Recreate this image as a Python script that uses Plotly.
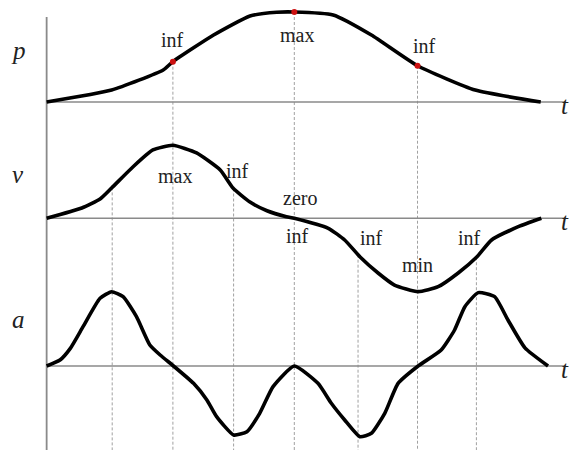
import numpy as np
import plotly.graph_objects as go

# ---------------- data ----------------
# position p(t)
p_t = [-0.08, 0.99, 1.84, 2.0, 2.67, 3.27, 3.71, 4.0, 4.64, 5.27, 6.03, 6.98, 8.06]
p_val = [0.0, 0.133, 0.356, 0.448, 0.744, 0.956, 0.997, 1.0, 0.967, 0.744, 0.403, 0.133, 0.0]

# velocity v(t)
v_t = [-0.08, 0.50, 0.80, 0.99, 1.34, 1.67, 2.0, 2.39, 2.78, 2.99, 3.27, 3.55, 3.87, 4.0,
       4.56, 4.83, 5.08, 5.38, 5.65, 6.04, 6.37, 6.70, 7.01, 7.25, 7.69, 8.07]
v_val = [0.0, 0.141, 0.264, 0.415, 0.703, 0.936, 1.0, 0.895, 0.662, 0.415, 0.223, 0.104, 0.022, 0.0,
         -0.137, -0.297, -0.526, -0.749, -0.914, -1.005, -0.937, -0.749, -0.526, -0.297, -0.115, 0.0]

# acceleration a(t)
a_t = [-0.08, 0.14, 0.31, 0.52, 0.80, 0.99, 1.18, 1.40, 1.62, 1.79, 2.01, 2.34, 2.56, 2.72, 3.0,
       3.22, 3.43, 3.65, 4.0, 4.39, 4.61, 4.83, 5.08, 5.27, 5.49, 5.71, 6.04, 6.42, 6.64, 6.81,
       7.03, 7.30, 7.52, 7.80, 8.18]
a_val = [0.0, 0.083, 0.245, 0.546, 0.940, 1.032, 0.962, 0.685, 0.292, 0.153, 0.0, -0.241, -0.472,
         -0.704, -0.958, -0.912, -0.657, -0.287, 0.0, -0.241, -0.518, -0.75, -0.982, -0.935,
         -0.657, -0.241, 0.0, 0.222, 0.5, 0.824, 1.019, 0.963, 0.639, 0.252, 0.0]

# marked instants
p_marks_t = [2.0, 4.0, 6.03]          # inf, max, inf of p
v_marks_t = [1.0, 3.0, 5.05, 7.0]     # instants marked from the v curve

axis_names = ["p", "v", "a"]
time_name = "t"

# labels: (text, t, y) y in layout units (-px/10)
labels = [
    ("inf", 2.0, -4.0), ("max", 4.05, -3.5), ("inf", 6.14, -4.6),
    ("max", 2.04, -17.6), ("inf", 3.07, -17.1), ("zero", 4.09, -19.8), ("inf", 4.05, -23.6),
    ("inf", 5.27, -23.8), ("min", 6.03, -26.5), ("inf", 6.88, -23.8),
]

# ---------------- layout constants ----------------
# the page body has an 8px margin, so the figure covers window pixels 8..578 x 8..450
OFF = 8
T0, T1 = -0.08, 8.46
X_RANGE = [(OFF - 51.5) / 60.7, (578 - 51.5) / 60.7]
Y_RANGE = [-45.0, -OFF / 10.0]
panels = {  # base, scale
    "p": (-10.2, 9.0),
    "v": (-21.83, 7.3),
    "a": (-36.6, 7.2),
}
GRAY = "#8a8a8a"
DOT = "#a0a0a0"
SERIF = "Liberation Serif, Times New Roman, serif"


def y_of(name, vals):
    b, s = panels[name]
    return [b + s * v for v in vals]


fig = go.Figure()

# dotted verticals from p marks
for tm in p_marks_t:
    y0 = y_of("p", [np.interp(tm, p_t, p_val)])[0]
    fig.add_trace(go.Scatter(x=[tm, tm], y=[y0, Y_RANGE[0]], mode="lines",
                             line=dict(color=DOT, width=1, dash="3px,2px"), hoverinfo="skip"))
# dotted verticals from v marks
for tm in v_marks_t:
    y0 = y_of("v", [np.interp(tm, v_t, v_val)])[0]
    fig.add_trace(go.Scatter(x=[tm, tm], y=[y0, Y_RANGE[0]], mode="lines",
                             line=dict(color=DOT, width=1, dash="3px,2px"), hoverinfo="skip"))

# vertical axis
fig.add_trace(go.Scatter(x=[T0, T0], y=[-1.7, Y_RANGE[0]], mode="lines",
                         line=dict(color=GRAY, width=1.8), hoverinfo="skip"))
# time axes
for name in axis_names:
    b, _ = panels[name]
    fig.add_trace(go.Scatter(x=[T0, T1], y=[b, b], mode="lines",
                             line=dict(color=GRAY, width=1.6), hoverinfo="skip"))

# curves
for name, tt, vv in (("p", p_t, p_val), ("v", v_t, v_val), ("a", a_t, a_val)):
    fig.add_trace(go.Scatter(x=tt, y=y_of(name, vv), mode="lines",
                             line=dict(color="black", width=3.6, shape="spline", smoothing=0.5),
                             hoverinfo="skip"))

# red dots on p
fig.add_trace(go.Scatter(x=p_marks_t, y=y_of("p", list(np.interp(p_marks_t, p_t, p_val))),
                         mode="markers", marker=dict(color="#cc1111", size=6), hoverinfo="skip"))

annotations = []
for txt, tx, ty in labels:
    annotations.append(dict(x=tx, y=ty, text=txt, showarrow=False, xanchor="center", yanchor="middle",
                            font=dict(family=SERIF, size=20, color="#222222")))
# axis names
name_y = {"p": -5.0, "v": -17.4, "a": -31.9}
for name in axis_names:
    annotations.append(dict(x=(18 - 51.5) / 60.7, y=name_y[name], text="<i>%s</i>" % name,
                            showarrow=False, xanchor="center", yanchor="middle",
                            font=dict(family=SERIF, size=25, color="#222222")))
    b, _ = panels[name]
    annotations.append(dict(xref="paper", x=1.0, xshift=-7, y=b - 0.3, text="<i>%s</i>" % time_name,
                            showarrow=False, xanchor="right", yanchor="middle",
                            font=dict(family=SERIF, size=25, color="#222222")))

fig.update_layout(
    width=578 - OFF, height=450 - OFF,
    margin=dict(l=0, r=0, t=0, b=0),
    paper_bgcolor="white", plot_bgcolor="white",
    showlegend=False,
    xaxis=dict(range=X_RANGE, visible=False, fixedrange=True),
    yaxis=dict(range=Y_RANGE, visible=False, fixedrange=True),
    annotations=annotations,
)

# hide page scrollbars (the figure plus the 8px body margin exactly fills the window)
fig.write_html("out.html", post_script="document.documentElement.style.overflow='hidden';"
                                       "document.body.style.overflow='hidden';")
